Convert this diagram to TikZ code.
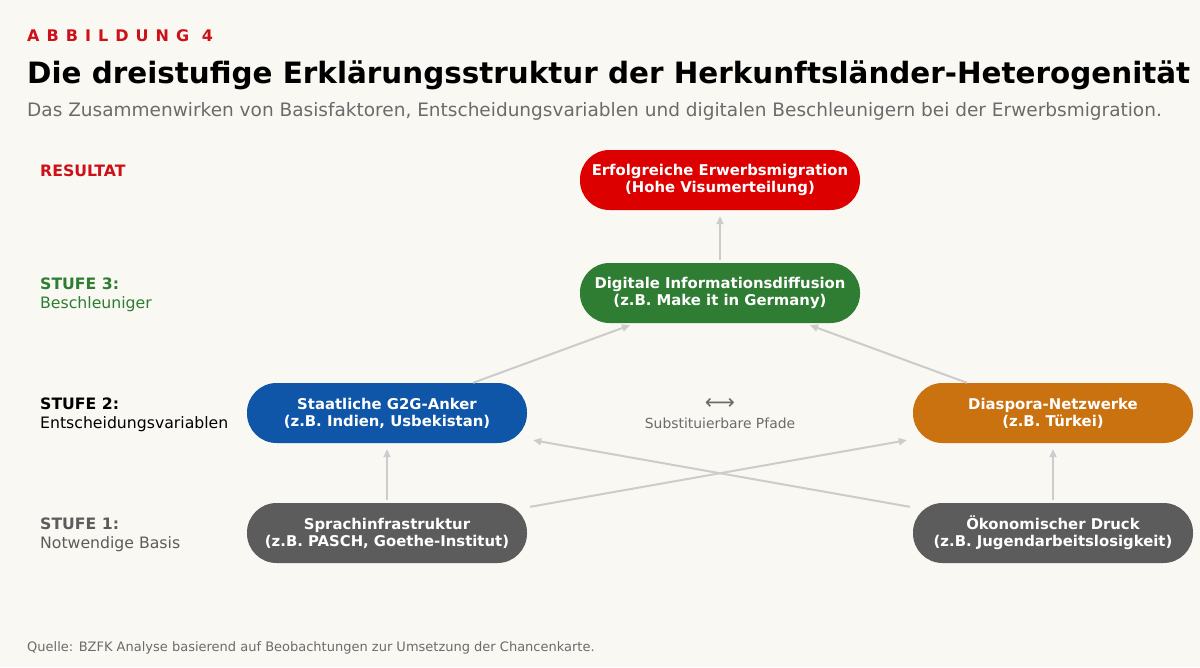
\documentclass[tikz,border=0pt]{standalone}
\usepackage{fontspec}
\setmainfont{DejaVu Sans}
\usepackage{xcolor}
\usetikzlibrary{arrows.meta,positioning}
\definecolor{bgc}{HTML}{F9F8F3}
\definecolor{resred}{HTML}{DD0000}
\definecolor{labred}{HTML}{CC1118}
\definecolor{stgreen}{HTML}{2E7D32}
\definecolor{stblue}{HTML}{0F56A8}
\definecolor{storange}{HTML}{CA7210}
\definecolor{stgray}{HTML}{5C5C5C}
\definecolor{txtgray}{HTML}{6B6B6B}
\definecolor{linegray}{HTML}{CCCCCC}
\tikzset{
  pill/.style={rounded corners=29.5pt,minimum width=280pt,minimum height=60pt,inner sep=0pt,
               align=center,text=white,font=\fontsize{14.85}{17}\selectfont\bfseries},
  res/.style={pill,fill=resred},
  acc/.style={pill,fill=stgreen},
  gov/.style={pill,fill=stblue},
  dia/.style={pill,fill=storange},
  base/.style={pill,fill=stgray},
  lbl/.style={anchor=west,align=left,inner sep=0pt,font=\fontsize{15.7}{19}\selectfont},
  arr/.style={-{Triangle[length=8pt,width=7pt]},line width=2pt,linegray},
}

\begin{document}
\begin{tikzpicture}[x=1pt,y=-1pt]
  \clip (0,0) rectangle (1200,667);
  \fill[bgc] (0,0) rectangle (1200,667);
  % header
  \node[anchor=west,inner sep=0pt,text=labred,font=\fontsize{16}{16}\selectfont\bfseries\addfontfeature{LetterSpace=44}] (fig) at (27,36) {ABBILDUNG 4};
  \node[anchor=west,inner sep=0pt,font=\fontsize{29.4}{29.4}\selectfont\bfseries] (title) at (27,75) {Die dreistufige Erklärungsstruktur der Herkunftsländer-Heterogenität};
  \node[anchor=west,inner sep=0pt,text=txtgray,font=\fontsize{18.5}{18.5}\selectfont] (sub) at (27,111.5) {Das Zusammenwirken von Basisfaktoren, Entscheidungsvariablen und digitalen Beschleunigern bei der Erwerbsmigration.};
  % stage labels
  \node[lbl,text=labred] (lres) at (40,171) {\textbf{RESULTAT}};
  \node[lbl,text=stgreen] (l3) at (40,294.5) {\textbf{STUFE 3:}\\Beschleuniger};
  \node[lbl] (l2) at (40,414.5) {\textbf{STUFE 2:}\\Entscheidungsvariablen};
  \node[lbl,text=stgray] (l1) at (40,534.5) {\textbf{STUFE 1:}\\Notwendige Basis};
  % nodes
  \node[res] (erfolg) at (720,180) {Erfolgreiche Erwerbsmigration\\(Hohe Visumerteilung)};
  \node[acc] (digital) at (720,293) {Digitale Informationsdiffusion\\(z.B. Make it in Germany)};
  \node[gov] (g2g) at (387,413) {Staatliche G2G-Anker\\(z.B. Indien, Usbekistan)};
  \node[dia] (diaspora) at (1053,413) {Diaspora-Netzwerke\\(z.B. Türkei)};
  \node[base] (sprache) at (387,533) {Sprachinfrastruktur\\(z.B. PASCH, Goethe-Institut)};
  \node[base] (druck) at (1053,533) {Ökonomischer Druck\\(z.B. Jugendarbeitslosigkeit)};
  \node[align=center,inner sep=0pt,text=txtgray,font=\fontsize{13.9}{19}\selectfont] (subst) at (720,413.5) {{\fontsize{21}{19}\selectfont ⟷}\\Substituierbare Pfade};
  % connectors
  \draw[arr] ([yshift=3pt]digital.north) -- ([yshift=-6pt]erfolg.south);
  \draw[arr] ([xshift=86pt]g2g.north) -- ([xshift=-90pt,yshift=-2pt]digital.south);
  \draw[arr] ([xshift=-86pt]diaspora.north) -- ([xshift=90pt,yshift=-2pt]digital.south);
  \draw[arr] ([yshift=3pt]sprache.north) -- ([yshift=-6pt]g2g.south);
  \draw[arr] ([yshift=3pt]druck.north) -- ([yshift=-6pt]diaspora.south);
  \draw[arr] ([xshift=3pt,yshift=-4pt]sprache.north east) -- ([xshift=-6pt,yshift=3pt]diaspora.south west);
  \draw[arr] ([xshift=-3pt,yshift=-4pt]druck.north west) -- ([xshift=6pt,yshift=3pt]g2g.south east);
  % footer
  \node[anchor=west,inner sep=0pt,text=txtgray,font=\fontsize{13}{13}\selectfont] (src) at (27,648) {Quelle: BZFK Analyse basierend auf Beobachtungen zur Umsetzung der Chancenkarte.};
\end{tikzpicture}
\end{document}
